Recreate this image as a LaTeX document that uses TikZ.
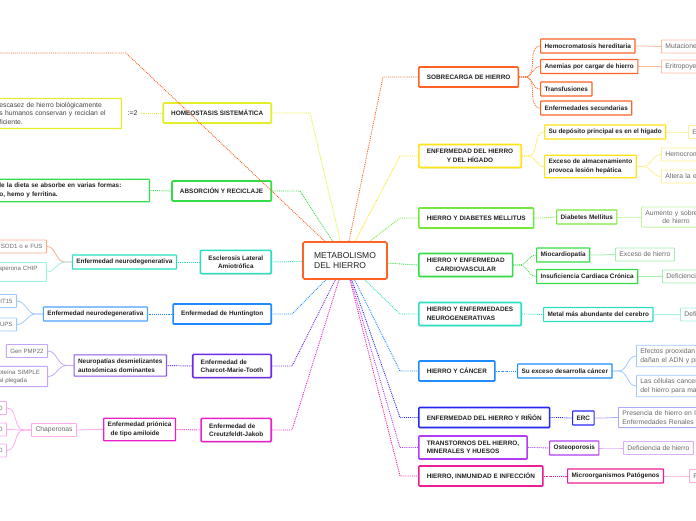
\documentclass[tikz,border=0pt]{standalone}
\usepackage{fontspec}
\setmainfont{Liberation Sans}
\usepackage{xcolor}
\usepackage{tikz}
\usetikzlibrary{calc, shadows, backgrounds}
\definecolor{MapInk}{RGB}{34, 34, 34}
\definecolor{MapGrey}{RGB}{105, 105, 105}
\definecolor{MapOrange}{RGB}{255, 98, 36}
\definecolor{MapOrangeLt}{RGB}{255, 188, 160}
\definecolor{MapSalmonLt}{RGB}{250, 172, 142}
\definecolor{MapYellow}{RGB}{255, 228, 20}
\definecolor{MapYellowLt}{RGB}{255, 238, 150}
\definecolor{MapLemon}{RGB}{228, 238, 40}
\definecolor{MapLime}{RGB}{118, 232, 60}
\definecolor{MapLimeLt}{RGB}{190, 244, 160}
\definecolor{MapGreen}{RGB}{50, 222, 70}
\definecolor{MapGreenLt}{RGB}{160, 238, 170}
\definecolor{MapTeal}{RGB}{40, 224, 196}
\definecolor{MapTealLt}{RGB}{160, 240, 228}
\definecolor{MapSky}{RGB}{30, 140, 255}
\definecolor{MapSkyLt}{RGB}{160, 200, 255}
\definecolor{MapBlue}{RGB}{40, 40, 240}
\definecolor{MapBlueLt}{RGB}{170, 170, 250}
\definecolor{MapViolet}{RGB}{180, 60, 245}
\definecolor{MapVioletLt}{RGB}{222, 172, 250}
\definecolor{MapIndigo}{RGB}{112, 40, 232}
\definecolor{MapIndigoLt}{RGB}{196, 166, 245}
\definecolor{MapPink}{RGB}{235, 30, 150}
\definecolor{MapPinkLt}{RGB}{250, 172, 212}
\definecolor{MapMagenta}{RGB}{236, 30, 204}
\definecolor{MapMagentaLt}{RGB}{250, 172, 236}
\newcommand{\mapsize}{\fontsize{6.4}{8.5}\selectfont}
\newcommand{\leafsize}{\fontsize{6.8}{8.5}\selectfont}
\newcommand{\edgesize}{\fontsize{6.1}{8}\selectfont}
\tikzset{
  hub/.style={draw=MapOrange, line width=1.6pt, fill=white, rounded corners=1.5pt,
    align=left, inner xsep=10pt, minimum width=84pt, minimum height=37pt,
    font=\fontsize{8.5}{10.5}\selectfont, text=MapInk,
    drop shadow={shadow xshift=0.8pt, shadow yshift=-1.2pt, opacity=0.22}},
  topic/.style={draw=#1, line width=1.6pt, fill=white, rounded corners=1pt,
    font=\mapsize\bfseries, text=MapInk, inner xsep=8pt, inner ysep=5pt, minimum height=20pt,
    drop shadow={shadow xshift=0.8pt, shadow yshift=-1.2pt, opacity=0.22}},
  sub/.style={draw=#1, line width=1.2pt, fill=white, rounded corners=0.5pt,
    font=\mapsize\bfseries, text=MapInk, inner xsep=4pt, inner ysep=4pt, minimum height=14pt},
  leaf/.style={draw=#1, line width=0.9pt, fill=white, rounded corners=0.5pt,
    font=\leafsize, text=MapGrey, inner xsep=4pt, inner ysep=3.3pt, minimum height=13pt},
  edgeleaf/.style={leaf=#1, font=\edgesize, anchor=east},
  spill/.style={text width=#1, align=left},
  link/.style={draw=#1, densely dotted, line width=0.9pt},
  twig/.style={draw=#1, line width=0.8pt},
}
\begin{document}
\begin{tikzpicture}[x=1pt, y=-1pt]
  \useasboundingbox (0,0) rectangle (696,520);
  \clip (0,0) rectangle (696,520);

  \node[hub] (core) at (345,260.5) {METABOLISMO\\DEL HIERRO};

  % right branches
  \node[topic=MapOrange, anchor=west] (sob) at (418,77) {SOBRECARGA DE HIERRO};
  \node[topic=MapYellow, anchor=west, align=center] (hig) at (418,156) {ENFERMEDAD DEL HIERRO\\Y DEL HÍGADO};
  \node[topic=MapLime, anchor=west] (dia) at (418,218) {HIERRO Y DIABETES MELLITUS};
  \node[topic=MapGreen, anchor=west, align=center] (car) at (418,265) {HIERRO Y ENFERMEDAD\\CARDIOVASCULAR};
  \node[topic=MapTeal, anchor=west, align=left] (neu) at (418,314) {HIERRO Y ENFERMEDADES\\NEUROGENERATIVAS};
  \node[topic=MapSky, anchor=west] (can) at (418,371) {HIERRO Y CÁNCER};
  \node[topic=MapBlue, anchor=west] (rin) at (418,417.5) {ENFERMEDAD DEL HIERRO Y RIÑÓN};
  \node[topic=MapViolet, anchor=west, align=left] (tra) at (418,447.5) {TRANSTORNOS DEL HIERRO,\\MINERALES Y HUESOS};
  \node[topic=MapPink, anchor=west] (inm) at (418,476) {HIERRO, INMUNIDAD E INFECCIÓN};

  \node[sub=MapOrange, anchor=west] (hered) at (540,46) {Hemocromatosis hereditaria};
  \node[sub=MapOrange, anchor=west] (anem) at (540,66.5) {Anemias por cargar de hierro};
  \node[sub=MapOrange, anchor=west] (transf) at (540,89) {Transfusiones};
  \node[sub=MapOrange, anchor=west] (secund) at (540,108) {Enfermedades secundarias};
  \node[sub=MapYellow, anchor=west] (depos) at (544,132) {Su depósito principal es en el hígado};
  \node[sub=MapYellow, anchor=west, align=left] (exceso) at (544,166.5) {Exceso de almacenamiento\\provoca lesión hepática};
  \node[sub=MapLime, anchor=west] (diab) at (556,217) {Diabetes Mellitus};
  \node[sub=MapGreen, anchor=west] (mioc) at (536,255) {Miocardiopatía};
  \node[sub=MapGreen, anchor=west] (insuf) at (536,276.5) {Insuficiencia Cardiaca Crónica};
  \node[sub=MapTeal, anchor=west] (metal) at (543,314.5) {Metal más abundante del cerebro};
  \node[sub=MapSky, anchor=west] (sucan) at (517,371) {Su exceso desarrolla cáncer};
  \node[sub=MapBlue, anchor=west] (erc) at (572,418) {ERC};
  \node[sub=MapViolet, anchor=west] (osteo) at (549,448) {Osteoporosis};
  \node[sub=MapPink, anchor=west] (micro) at (567,476) {Microorganismos Patógenos};

  \node[leaf=MapOrangeLt, anchor=west, spill=70pt] (mut) at (661,46.5) {Mutaciones};
  \node[leaf=MapOrangeLt, anchor=west, spill=70pt] (erit) at (661,66.5) {Eritropoye};
  \node[leaf=MapYellowLt, anchor=west, spill=40pt] (depe) at (688,132) {E};
  \node[leaf=MapYellowLt, anchor=west, spill=70pt] (hemo) at (661,154.5) {Hemocrom};
  \node[leaf=MapYellowLt, anchor=west, spill=70pt] (alt) at (661,176.5) {Altera la e};
  \node[leaf=MapLimeLt, anchor=west, spill=70pt] (aum) at (641,217) {Aumento y sobre\\\hspace*{17pt}de hierro};
  \node[leaf=MapGreenLt, anchor=west] (exh) at (615,254.5) {Exceso de hierro};
  \node[leaf=MapGreenLt, anchor=west, spill=70pt] (defc) at (662,276.5) {Deficienci};
  \node[leaf=MapTealLt, anchor=west, spill=40pt] (defi) at (680,314.5) {Defi};
  \node[leaf=MapSkyLt, anchor=west, spill=90pt] (efe) at (636,356) {Efectos prooxidan\\dañan el ADN y pro};
  \node[leaf=MapSkyLt, anchor=west, spill=90pt] (cel) at (636,386) {Las células cancer\\del hierro para ma};
  \node[leaf=MapBlueLt, anchor=west, spill=100pt] (pres) at (618,417.5) {Presencia de hierro en la\\Enfermedades Renales C};
  \node[leaf=MapVioletLt, anchor=west] (defh) at (623,448) {Deficiencia de hierro};
  \node[leaf=MapPinkLt, anchor=west, spill=40pt] (fpat) at (689,476) {F};

  % left branches
  \node[topic=MapLemon, anchor=east] (hom) at (272,113) {HOMEOSTASIS SISTEMÁTICA};
  \node[topic=MapGreen, anchor=east] (abs) at (272,191) {ABSORCIÓN Y RECICLAJE};
  \node[topic=MapTeal, anchor=east, align=center] (ela) at (272,262) {Esclerosis Lateral\\Amiotrófica};
  \node[topic=MapSky, anchor=east] (hun) at (272,314) {Enfermedad de Huntington};
  \node[topic=MapIndigo, anchor=east, align=left] (cmt) at (272,366) {Enfermedad de\\Charcot-Marie-Tooth};
  \node[topic=MapMagenta, anchor=east, align=left] (cj) at (272,430) {Enfermedad de\\Creutzfeldt-Jakob};

  \node[font=\leafsize, text=MapInk] (eq) at (132.5,113) {:=2};
  \node[sub=MapLemon, anchor=east, font=\leafsize, text=MapInk!85, spill=118pt] (homtxt) at (122,113.5)
    {escasez de hierro biológicamente\\s humanos conservan y reciclan el\\ficiente.};
  \node[sub=MapGreen, anchor=east, spill=146pt] (abstxt) at (150,190.5)
    {le la dieta se absorbe en varias formas:\\o, hemo y ferritina.};
  \node[sub=MapTeal, anchor=east] (elaneu) at (177,262) {Enfermedad neurodegenerativa};
  \node[sub=MapSky!80, anchor=east] (hunneu) at (148,314) {Enfermedad neurodegenerativa};
  \node[sub=MapIndigo!80, anchor=east, align=left] (cmtneu) at (167,365.5) {Neuropatías desmielizantes\\autosómicas dominantes};
  \node[sub=MapMagenta, anchor=east, align=left] (prion) at (176,429.5) {Enfermedad priónica\\\hspace*{3pt}de tipo amiloide};
  \node[leaf=MapMagentaLt, anchor=east] (chap) at (77,430) {Chaperonas};

  \node[edgeleaf=MapSalmonLt, text width=60pt, align=right] (sod) at (47,246.5) {SOD1 o e FUS};
  \node[edgeleaf=MapTealLt, spill=44pt] (chip) at (47,272) {aperona CHIP\\l};
  \node[edgeleaf=MapSkyLt, text width=40pt, align=right] (it15) at (17,301) {IT15};
  \node[edgeleaf=MapSkyLt, text width=40pt, align=right] (ups) at (17,324.5) {UPS};
  \node[leaf=MapIndigoLt, anchor=east, font=\edgesize] (pmp) at (48,351) {Gen PMP22};
  \node[edgeleaf=MapIndigoLt, spill=45pt] (simple) at (48,376.5) {oteína SIMPLE\\al plegada};
  \node[edgeleaf=MapMagentaLt, text width=20pt, align=right] (hsp1) at (7,408) {0};
  \node[edgeleaf=MapMagentaLt, text width=20pt, align=right] (hsp2) at (7,429.5) {0};
  \node[edgeleaf=MapMagentaLt, text width=20pt, align=right] (hsp3) at (7,450.5) {0};

  \begin{scope}[on background layer]
    \draw[link=MapOrange] (core) -- ($(sob.west)+(-35,0)$) -- (sob.west);
    \foreach \t/\col in {hig/MapYellow, dia/MapLime, neu/MapTeal, can/MapSky, rin/MapBlue, tra/MapViolet, inm/MapPink}
      \draw[link=\col] (core) -- ($(\t.west)+(-18,0)$) -- (\t.west);
    \draw[link=MapGreen] (core) -- (car.west);
    \foreach \t/\col/\d in {hom/MapLemon/38, abs/MapGreen/28, hun/MapSky/20, cmt/MapIndigo/20, cj/MapMagenta/20}
      \draw[link=\col] (core) -- ($(\t.east)+(\d,0)$) -- (\t.east);
    \draw[link=MapTeal] (core) -- (ela.east);

    \foreach \p/\c/\col in {sob/hered/MapOrange, sob/anem/MapOrange, sob/transf/MapOrange, sob/secund/MapOrange,
        hig/depos/MapYellow, hig/exceso/MapYellow, dia/diab/MapLime, car/mioc/MapGreen, car/insuf/MapGreen,
        neu/metal/MapTeal, can/sucan/MapSky, rin/erc/MapBlue, tra/osteo/MapViolet, inm/micro/MapPink}
      \draw[link=\col] (\p.east) -- ++(6,0) to[out=0, in=180] (\c.west);
    \foreach \p/\c/\col in {hered/mut/MapOrangeLt, anem/erit/MapOrangeLt, depos/depe/MapYellowLt,
        exceso/hemo/MapYellowLt, exceso/alt/MapYellowLt, diab/aum/MapLimeLt, mioc/exh/MapGreenLt,
        insuf/defc/MapGreenLt, metal/defi/MapTealLt, sucan/efe/MapSkyLt, sucan/cel/MapSkyLt,
        erc/pres/MapBlueLt, osteo/defh/MapVioletLt, micro/fpat/MapPinkLt}
      \draw[twig=\col] (\p.east) -- ++(6,0) to[out=0, in=180] (\c.west);

    \foreach \p/\c/\col in {ela/elaneu/MapTeal, hun/hunneu/MapSky, cmt/cmtneu/MapIndigo, cj/prion/MapMagenta, abs/abstxt/MapGreen}
      \draw[link=\col] (\p.west) -- (\c.east);
    \draw[link=MapLemon] (hom.west) -- (eq.east);
    \foreach \p/\c/\col in {elaneu/sod/MapSalmonLt, elaneu/chip/MapTealLt, hunneu/it15/MapSkyLt, hunneu/ups/MapSkyLt,
        cmtneu/pmp/MapIndigoLt, cmtneu/simple/MapIndigoLt, prion/chap/MapMagentaLt,
        chap/hsp1/MapMagentaLt, chap/hsp2/MapMagentaLt, chap/hsp3/MapMagentaLt}
      \draw[twig=\col] (\p.west) -- ++(-7,0) to[out=180, in=0] (\c.east);
  \end{scope}

  \coordinate (lost) at (-5,53);
  \draw[link=MapOrange] (core) -- (126,53) -- (lost);
\end{tikzpicture}
\end{document}
